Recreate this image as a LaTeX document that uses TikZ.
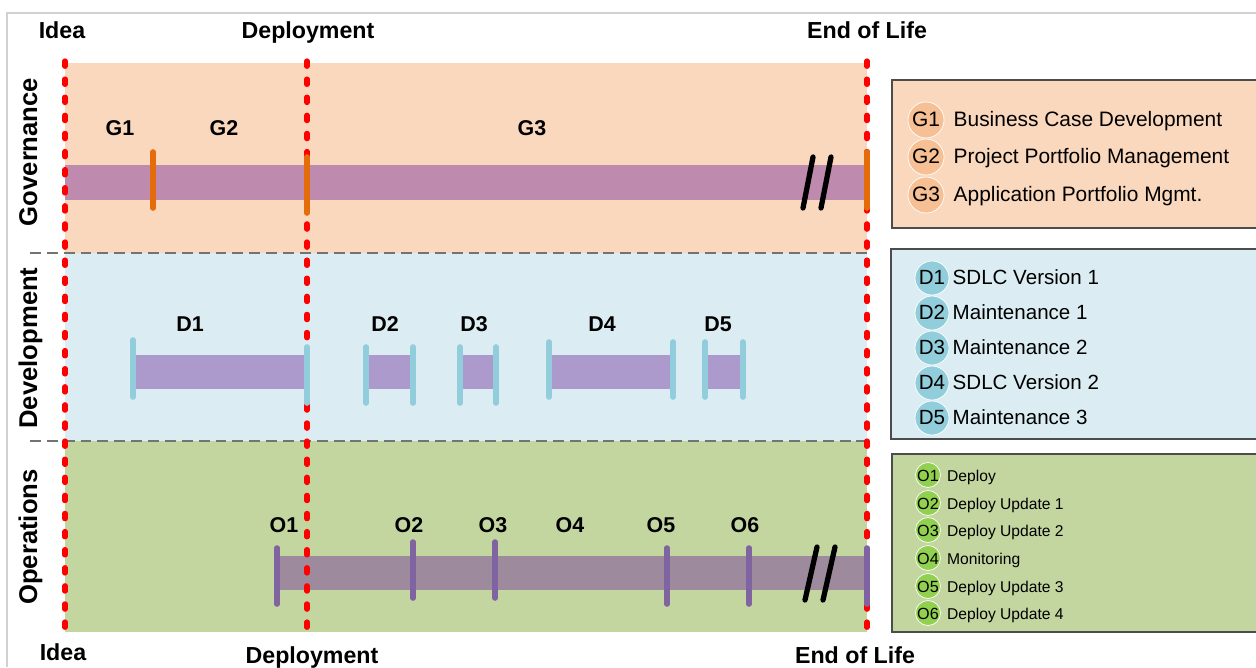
\documentclass[tikz,border=0pt]{standalone}
\usepackage{fontspec}
\setmainfont{Liberation Sans}
\usetikzlibrary{positioning, calc}

\definecolor{govbg}{RGB}{250,216,189}
\definecolor{govbar}{RGB}{190,138,173}
\definecolor{govtick}{RGB}{228,108,10}
\definecolor{govdot}{RGB}{246,192,148}
\definecolor{devbg}{RGB}{219,237,243}
\definecolor{devbar}{RGB}{171,154,203}
\definecolor{devtick}{RGB}{146,205,220}
\definecolor{opsbg}{RGB}{196,214,160}
\definecolor{opsbar}{RGB}{158,138,157}
\definecolor{opstick}{RGB}{128,100,162}
\definecolor{opsdot}{RGB}{146,208,80}

\begin{document}
\begin{tikzpicture}[x=0.02cm, y=-0.02cm,
	phase/.style={font=\fontsize{13.2}{15}\selectfont\bfseries, anchor=base, inner sep=0},
	lane/.style={font=\fontsize{14.6}{17}\selectfont\bfseries, rotate=90, anchor=base, inner sep=0},
	steptag/.style={font=\fontsize{12.2}{14}\selectfont\bfseries, anchor=base, inner sep=0},
	milestone/.style={red, line width=3pt, line cap=round, dash pattern=on 3pt off 7.3pt},
	lanesep/.style={black!55, line width=1.1pt, dash pattern=on 6.2pt off 3.4pt},
	mstick/.style={line width=3.2pt, line cap=round},
	brk/.style={black, line width=3pt, line cap=round},
	legbox/.style={draw=black!70, line width=0.8pt},
	badge/.style={circle, inner sep=0, minimum size=#1, draw=white, line width=0.4pt, text height=0.72em, text depth=0pt},
	legtext/.style={inner sep=0, text height=0.72em, text depth=0pt}]
	
	\useasboundingbox (0,0) rectangle (1256,667);
	\draw[black!18, line width=0.9pt] (7,667) -- (7,13) -- (1256,13);
	
	%% lanes
	\fill[govbg] (65,63) rectangle (867,253);
	\fill[devbg] (65,253) rectangle (867,441);
	\fill[opsbg] (65,441) rectangle (867,632);
	\draw[lanesep] (30,253) -- (867,253);
	\draw[lanesep] (30,441) -- (867,441);
	
	\node[lane] (gov) at (37,152) {Governance};
	\node[lane] (dev) at (37,348) {Development};
	\node[lane] (ops) at (37,537) {Operations};
	
	%% bars
	\fill[govbar] (65,165) rectangle (867,200);
	\foreach \a/\b in {133/307, 366/413, 460/496, 549/673, 705/743}
		\fill[devbar] (\a,355) rectangle (\b,389);
	\fill[opsbar] (277,556) rectangle (867,590);
	
	%% milestones
	\foreach \x/\n in {65/idea, 307/depl, 867/eol} {
		\coordinate (\n-t) at (\x,61);
		\coordinate (\n-b) at (\x,637);
		\draw[milestone] (\n-t) -- (\n-b);
	}
	\node[phase] (idea-top) at (62,38) {Idea};
	\node[phase] (depl-top) at (308,38) {Deployment};
	\node[phase] (eol-top) at (867,38) {End of Life};
	\node[phase] (idea-bot) at (63,660) {Idea};
	\node[phase] (depl-bot) at (312,663) {Deployment};
	\node[phase] (eol-bot) at (855,663) {End of Life};
	
	%% ticks
	\foreach \x/\a/\b in {153/152/208, 307/157/213, 867/152/208}
		\draw[mstick, govtick] (\x,\a) -- (\x,\b);
	\foreach \x/\a/\b in {133/340/397, 307/347/403, 366/347/403, 413/347/403, 460/347/403, 496/347/403, 549/342/397, 673/342/397, 705/342/397, 743/342/397}
		\draw[mstick, devtick] (\x,\a) -- (\x,\b);
	\foreach \x/\a/\b in {277/548/604, 413/542/598, 495/542/598, 667/548/604, 749/548/604, 867/548/604}
		\draw[mstick, opstick] (\x,\a) -- (\x,\b);
	
	%% breaks
	\draw[brk] (813,157) -- (803,208);
	\draw[brk] (831,157) -- (821,208);
	\draw[brk] (817,547) -- (805,600);
	\draw[brk] (835,547) -- (823,600);
	
	%% step labels
	\foreach \x/\t in {120/G1, 224/G2, 532/G3}
		\node[steptag] (\t) at (\x,135) {\t};
	\foreach \x/\t in {190/D1, 385/D2, 474/D3, 602/D4, 718/D5}
		\node[steptag] (\t) at (\x,331) {\t};
	\foreach \x/\t in {284/O1, 409/O2, 493/O3, 570/O4, 661/O5, 745/O6}
		\node[steptag] (\t) at (\x,532) {\t};
	
	%% legends
	\draw[legbox, fill=govbg] (892,80) rectangle (1262,228);
	\draw[legbox, fill=devbg] (891,249) rectangle (1262,439);
	\draw[legbox, fill=opsbg] (892,454) rectangle (1262,632);
	
	\foreach \t/\y [count=\i] in {Business Case Development/120, Project Portfolio Management/157, Application Portfolio Mgmt./195} {
		\node[badge=0.72cm, fill=govdot, font=\fontsize{11.9}{14}\selectfont] (lg\i) at (926,\y) {G\i};
		\node[legtext, right=0.18cm of lg\i, font=\fontsize{11.9}{14}\selectfont] (lgt\i) {\t};
	}
	\foreach \t/\y [count=\i] in {SDLC Version 1/278, Maintenance 1/313, Maintenance 2/348, SDLC Version 2/383, Maintenance 3/418} {
		\node[badge=0.68cm, fill=devtick, font=\fontsize{11.7}{14}\selectfont] (ld\i) at (932,\y) {D\i};
		\node[legtext, right=0.06cm of ld\i, font=\fontsize{11.7}{14}\selectfont] (ldt\i) {\t};
	}
	\foreach \t/\y [count=\i] in {Deploy/475, Deploy Update 1/503, Deploy Update 2/530, Monitoring/558, Deploy Update 3/586, Deploy Update 4/613} {
		\node[badge=0.44cm, fill=opsdot, font=\fontsize{9.2}{10}\selectfont] (lo\i) at (928,\y) {O\i};
		\node[legtext, right=0.12cm of lo\i, font=\fontsize{8.9}{10}\selectfont] (lot\i) {\t};
	}
\end{tikzpicture}
\end{document}
